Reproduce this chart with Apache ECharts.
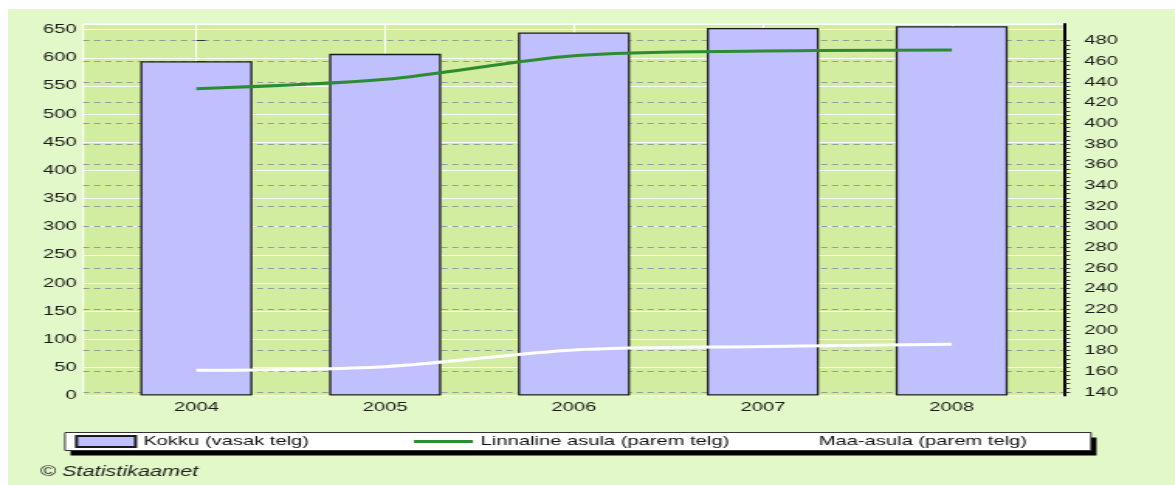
<!DOCTYPE html>
<html>
<head>
<meta charset="utf-8">
<script src="https://cdn.jsdelivr.net/npm/echarts@6/dist/echarts.min.js"></script>
<style>
  html, body { margin: 0; width: 1175px; height: 485px; overflow: hidden; background: #fff; }
  #bg { position: absolute; left: 8px; top: 9px; right: 0; bottom: 0; background: #E3F8C8; }
  #main { position: absolute; left: 0; top: 0; height: 485px; transform-origin: 0 0; }
</style>
</head>
<body>
<div id="bg"></div>
<div id="main"></div>
<script>
// andmed
var years = ['2004', '2005', '2006', '2007', '2008'];
var kokku = [594, 607, 645, 653, 656];            // vasak telg
var linnaline = [433.5, 442.6, 465.5, 470, 471];  // parem telg
var maaAsula = [161, 164.5, 180.7, 184, 186.2];   // parem telg
var leftAxis = { min: 0, max: 660, step: 50 };
var rightAxis = { min: 140, max: 480, step: 20, minorStep: 4 };
var seriesNames = ['Kokku (vasak telg)', 'Linnaline asula (parem telg)', 'Maa-asula (parem telg)'];

// the original picture is stretched sideways, so draw narrow and stretch it
var S = 1.55;
function sx(px) { return px / S; }

var el = document.getElementById('main');
el.style.width = (1175 / S) + 'px';
el.style.transform = 'scaleX(' + S + ')';
var chart = echarts.init(el, null, { width: 1175 / S, height: 485 });

var font = 'Arial, "Liberation Sans", sans-serif';
var txt = { fontFamily: font, fontSize: 13, color: '#1a1a1a' };

var option = {
    animation: false,
    title: {
        text: '© Statistikaamet',
        left: sx(40),
        top: 465,
        padding: 0,
        textStyle: { fontFamily: font, fontSize: 14, fontStyle: 'italic', fontWeight: 'normal', color: '#222' }
    },
    // legend frame with its hard black shadow
    graphic: [
        { type: 'rect', z: 3, silent: true, shape: { x: sx(70.5), y: 437.5, width: sx(1026), height: 18 }, style: { fill: '#000' } },
        { type: 'rect', z: 3, silent: true, shape: { x: sx(65), y: 432.5, width: sx(1026), height: 18 }, style: { fill: '#fff', stroke: '#333', lineWidth: 1 } }
    ],
    legend: {
        z: 5,
        left: sx(65),
        top: 432.5,
        itemWidth: sx(59),
        itemHeight: 11,
        itemGap: 13.1,
        padding: [2, sx(22), 2, sx(10)],
        selectedMode: false,
        textStyle: { fontFamily: font, fontSize: 13, color: '#111', width: 160, lineHeight: 14 },
        data: [
            { name: seriesNames[0], icon: 'rect' },
            { name: seriesNames[1], itemStyle: { opacity: 0 }, lineStyle: { width: 3 } },
            { name: seriesNames[2], itemStyle: { opacity: 0 }, lineStyle: { width: 3 } }
        ]
    },
    grid: [
        // plot background + left axis
        { left: sx(83.3), right: sx(110), top: 24, bottom: 89.5, show: true, backgroundColor: '#D3EDA0',
          borderColor: '#fff', borderWidth: 1, outerBoundsMode: 'none' },
        // bars and year labels
        { left: sx(196.3), right: sx(223.3), top: 24, bottom: 89.5, outerBoundsMode: 'none' },
        // right axis and lines
        { left: sx(83.3), right: sx(110), top: 40.7, bottom: 93, outerBoundsMode: 'none' }
    ],
    xAxis: [
        { gridIndex: 0, type: 'value', min: 0, max: 1, show: false },
        {
            gridIndex: 1, type: 'category', data: years, boundaryGap: false,
            axisLine: { show: false }, axisTick: { show: false },
            axisLabel: Object.assign({ margin: 5 }, txt),
            splitLine: { show: true, lineStyle: { color: '#fff', width: 1 } }
        },
        { gridIndex: 2, type: 'value', min: -0.598, max: 4.599, show: false }
    ],
    yAxis: [
        {
            gridIndex: 0, type: 'value', position: 'left',
            min: leftAxis.min, max: leftAxis.max, interval: leftAxis.step,
            axisLine: { show: false }, axisTick: { show: false },
            axisLabel: Object.assign({ margin: sx(6.6), showMaxLabel: false }, txt),
            splitLine: { show: true, lineStyle: { color: '#fff', width: 1 } }
        },
        { gridIndex: 1, type: 'value', min: leftAxis.min, max: leftAxis.max, show: false },
        {
            gridIndex: 2, type: 'value', position: 'right',
            min: rightAxis.min, max: rightAxis.max, interval: rightAxis.step,
            axisLine: { show: false },
            axisTick: { show: true, length: sx(9), lineStyle: { color: '#333' } },
            axisLabel: Object.assign({ margin: sx(19.3) }, txt),
            splitLine: { show: true, lineStyle: { color: '#999', width: 1, type: [4, 3] } }
        },
        // the thick black line of the right axis, full plot height
        {
            gridIndex: 0, type: 'value', position: 'right', min: 0, max: 1,
            axisLine: { show: true, lineStyle: { color: '#000', width: 2 } },
            axisTick: { show: false }, axisLabel: { show: false }, splitLine: { show: false }
        },
        // small ticks of the right axis
        {
            gridIndex: 2, type: 'value', position: 'right',
            min: rightAxis.min, max: rightAxis.max, interval: rightAxis.minorStep,
            axisLine: { show: false },
            axisTick: { show: true, length: sx(5), lineStyle: { color: '#333' } },
            axisLabel: { show: false }, splitLine: { show: false }
        }
    ],
    series: [
        {
            name: seriesNames[0], type: 'bar', xAxisIndex: 1, yAxisIndex: 1,
            data: kokku, barWidth: sx(112), clip: false,
            itemStyle: { color: '#C0C0FF', borderColor: '#1a1a1a', borderWidth: 1.3 }
        },
        {
            name: seriesNames[1], type: 'line', xAxisIndex: 2, yAxisIndex: 2,
            data: linnaline.map(function (v, i) { return [i, v]; }),
            smooth: 0.3, symbol: 'none',
            lineStyle: { color: '#2D8C32', width: 3 }, itemStyle: { color: '#2D8C32' }
        },
        {
            name: seriesNames[2], type: 'line', xAxisIndex: 2, yAxisIndex: 2,
            data: maaAsula.map(function (v, i) { return [i, v]; }),
            smooth: 0.3, symbol: 'none',
            lineStyle: { color: '#fff', width: 3 }, itemStyle: { color: '#fff' }
        }
    ]
};
chart.setOption(option);
</script>
</body>
</html>
